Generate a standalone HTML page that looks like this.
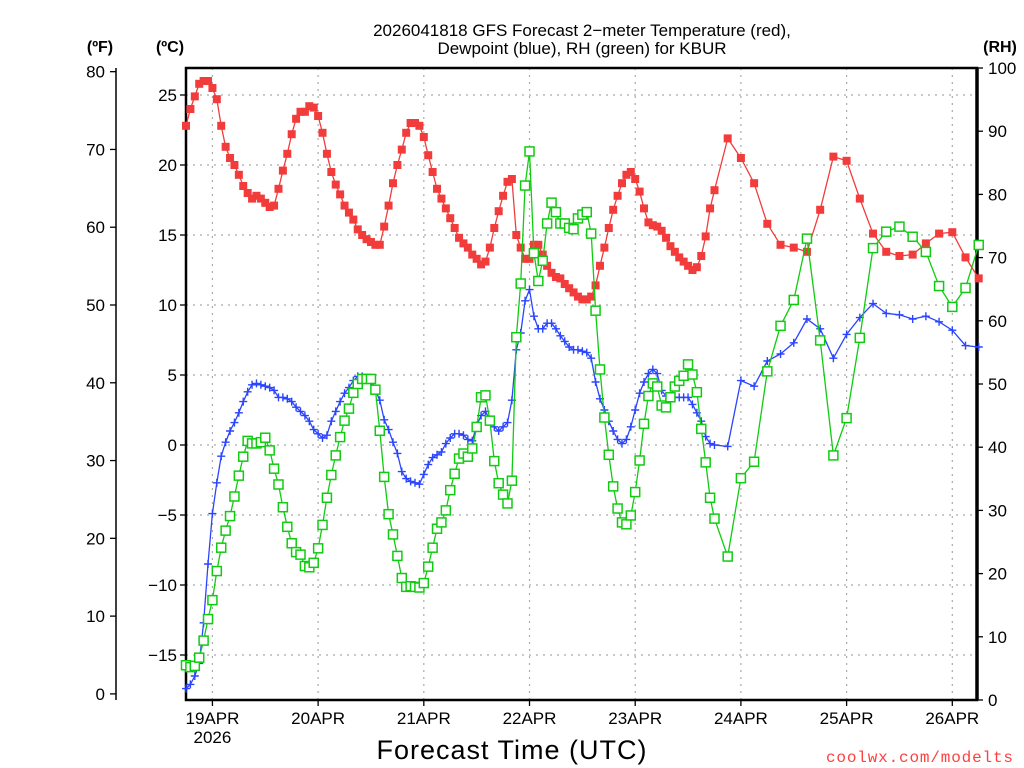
<!DOCTYPE html>
<html><head><meta charset="utf-8"><style>
html,body{margin:0;padding:0;background:#fff;}
svg{display:block;font-family:"Liberation Sans",sans-serif;}
</style></head><body>
<svg id="chart" width="1024" height="768" viewBox="0 0 1024 768" xmlns="http://www.w3.org/2000/svg">
<g id="grid"></g>
<g id="axes"></g>
<g id="series"></g>
<text x="582" y="36" font-size="17" text-anchor="middle" fill="#000">2026041818 GFS Forecast 2−meter Temperature (red),</text>
<text x="582" y="54" font-size="17" text-anchor="middle" fill="#000">Dewpoint (blue), RH (green) for KBUR</text>
<text x="100" y="52" font-size="16" font-weight="bold" text-anchor="middle">(ºF)</text>
<text x="170" y="52" font-size="16" font-weight="bold" text-anchor="middle">(ºC)</text>
<text x="1000" y="52" font-size="16" font-weight="bold" text-anchor="middle">(RH)</text>
<text x="512" y="759" font-size="27" text-anchor="middle" letter-spacing="1">Forecast Time (UTC)</text>
<text x="826" y="762" font-size="16" textLength="187" lengthAdjust="spacing" fill="#ff4040" font-family="Liberation Mono, monospace">coolwx.com/modelts</text>
</svg>
<script>
const tempC = [22.8,24.0,24.9,25.8,26.0,26.0,25.5,24.7,22.8,21.3,20.5,20.0,19.3,18.5,18.0,17.6,17.8,17.6,17.3,17.0,17.1,18.3,19.6,20.8,22.2,23.3,23.8,23.8,24.2,24.1,23.5,22.3,20.8,19.5,18.6,17.9,17.1,16.6,16.1,15.4,
15.0,14.7,14.5,14.3,14.3,15.6,17.1,18.7,20.0,21.1,22.3,23.0,23.0,22.8,22.0,20.7,19.5,18.3,17.6,16.9,16.2,15.5,14.8,14.4,14.1,13.6,13.3,12.9,13.1,14.1,15.5,16.7,17.8,18.8,19.0,15.0,14.1,13.3,13.3,
14.3,14.3,13.6,12.8,12.3,12.0,11.9,11.5,11.2,10.9,10.6,10.4,10.4,10.6,11.4,12.8,14.1,15.5,16.8,17.8,18.7,19.3,19.5,19.0,18.1,16.9,15.9,15.7,15.6,15.3,14.8,14.2,13.8,13.4,13.1,12.8,12.5,12.7,13.5,
14.9,16.9,18.2,
21.9,20.5,18.7,15.8,14.3,14.1,13.8,16.8,20.6,20.3,17.6,15.1,13.8,13.5,13.6,14.4,15.1,15.2,13.4,11.9];
const dewC = [-17.4,-17.1,-16.5,-15.6,-12.7,-8.5,-4.9,-2.7,-0.8,0.2,1.0,1.6,2.3,3.1,3.8,4.3,4.4,4.3,4.2,4.1,3.9,3.4,3.4,3.3,3.1,2.7,2.4,2.1,1.7,1.1,0.8,0.5,0.7,1.7,2.4,3.1,3.7,4.1,4.6,4.9,
4.9,4.8,4.5,3.9,3.2,1.8,1.1,0.2,-0.6,-1.9,-2.4,-2.6,-2.7,-2.8,-2.1,-1.4,-0.9,-0.7,-0.5,0.1,0.5,0.8,0.8,0.7,0.4,0.3,1.4,2.1,2.4,1.8,1.3,1.0,1.3,1.6,3.2,6.8,8.0,10.3,11.1,
9.2,8.3,8.3,8.7,8.7,8.3,7.8,7.4,7.0,6.8,6.8,6.7,6.6,6.2,4.5,3.3,2.5,1.7,1.0,0.4,0.1,0.4,1.3,2.5,3.7,4.5,5.1,5.4,5.1,3.9,3.5,3.4,3.4,3.4,3.4,3.4,2.9,2.3,1.7,
0.6,0.1,0.0,
-0.1,4.6,4.2,6.0,6.5,7.3,9.0,8.3,6.2,7.9,9.1,10.1,9.4,9.3,9.0,9.2,8.8,8.2,7.1,7.0];
const rhPct = [5.5,5.2,5.4,6.7,9.4,12.8,15.8,20.4,24.1,26.8,29.1,32.2,35.5,38.5,41.0,40.6,40.6,40.8,41.5,39.5,36.6,34.1,30.5,27.4,24.8,23.4,23.0,21.2,21.0,21.7,24.0,27.7,32.0,35.6,38.7,41.6,44.2,46.1,48.6,50.0,
50.8,50.8,50.8,49.1,42.6,35.3,29.4,26.2,22.8,19.3,17.9,18.0,17.9,17.8,18.5,21.1,24.1,27.1,28.1,30.0,33.2,35.8,38.2,39.0,38.5,39.8,43.2,47.9,48.2,44.2,37.8,34.3,32.5,31.1,34.7,57.4,65.9,81.4,86.8,
70.7,66.3,69.5,75.4,78.7,77.2,75.4,75.4,74.7,74.5,76.2,76.8,77.2,73.8,61.6,52.3,44.7,38.8,33.8,30.3,28.1,27.8,29.2,32.9,37.9,43.7,48.1,50.1,49.6,46.6,46.3,47.9,49.6,50.5,51.3,53.1,51.5,48.7,42.9,
37.6,32.0,28.7,
22.7,35.1,37.7,52.0,59.2,63.3,73.0,56.9,38.7,44.6,57.3,71.5,74.1,74.9,73.3,70.9,65.5,62.2,65.2,72.0];
const dayLabels = ["19APR","20APR","21APR","22APR","23APR","24APR","25APR","26APR"];
const cTicks = [25,20,15,10,5,0,-5,-10,-15];
const fTicks = [80,70,60,50,40,30,20,10,0];
const rhTicks = [100,90,80,70,60,50,40,30,20,10,0];
// forecast hours: hourly to 120, then 3-hourly to 180
const hours = [];
for (let h = 0; h <= 120; h++) hours.push(h);
for (let h = 123; h <= 180; h += 3) hours.push(h);

const NS = "http://www.w3.org/2000/svg";
const L = 186, R = 977, T = 68, B = 700;
const xH = h => L + h * 4.404;
const yC = c => 445 - c * 14;
const yF = f => yC((f - 32) * 5 / 9);
const yRH = r => B - r * 6.32;
function mk(tag, attrs, parent){const e=document.createElementNS(NS,tag);for(const k in attrs)e.setAttribute(k,attrs[k]);parent.appendChild(e);return e;}
const grid = document.getElementById('grid'), axes = document.getElementById('axes'), ser = document.getElementById('series');

cTicks.forEach(c => {
  const y = yC(c);
  const g = mk('line',{x1:L,x2:R,y1:y,y2:y,stroke:'#aaa','stroke-width':1.2,'stroke-dasharray':'2,5'},grid);
  
  
  const t = mk('line',{x1:L-6,x2:L,y1:y,y2:y,stroke:'#000','stroke-width':1.3},axes);
  
  
  const lb = mk('text',{x:L-9,y:y+6,'font-size':17,'text-anchor':'end'},axes);
  lb.textContent = c < 0 ? '\u2212' + Math.abs(c) : String(c);
  
  
});
dayLabels.forEach((d,i) => {
  const x = xH(6 + 24*i);
  const g = mk('line',{x1:x,x2:x,y1:T,y2:B,stroke:'#aaa','stroke-width':1.2,'stroke-dasharray':'2,5'},grid);
  
  
  const t = mk('line',{x1:x,x2:x,y1:B,y2:B+6,stroke:'#000','stroke-width':1.3},axes);
  
  
  const lb = mk('text',{x:x,y:B+24,'font-size':17,'text-anchor':'middle'},axes);
  lb.textContent = d;
  
  
});
const yr = mk('text',{x:xH(6),y:B+43,'font-size':17,'text-anchor':'middle'},axes);
yr.textContent = '2026';



const fAx = mk('line',{x1:116,x2:116,y1:T,y2:B,stroke:'#000','stroke-width':1.5},axes);


fTicks.forEach(f => {
  const y = yF(f);
  const t = mk('line',{x1:110,x2:116,y1:y,y2:y,stroke:'#000','stroke-width':1.3},axes);
  
  
  const lb = mk('text',{x:105,y:y+6,'font-size':17,'text-anchor':'end'},axes);
  lb.textContent = String(f);
  
  
});
rhTicks.forEach(r => {
  const y = yRH(r);
  const t = mk('line',{x1:R,x2:R+6,y1:y,y2:y,stroke:'#000','stroke-width':1.3},axes);
  
  
  const lb = mk('text',{x:R+11,y:y+6,'font-size':17,'text-anchor':'start'},axes);
  lb.textContent = String(r);
  
  
});
const box = mk('rect',{x:L,y:T,width:R-L,height:B-T,fill:'none',stroke:'#000','stroke-width':2.5},axes);


const rb = mk('line',{x1:R,x2:R,y1:T,y2:B,stroke:'#000','stroke-width':3.5},axes);



function drawSeries(vals, yf, color, kind, name){
  const g = mk('g',{},ser);
  
  
  const pts = vals.map((v,i)=>xH(hours[i]).toFixed(1)+','+yf(v).toFixed(1)).join(' ');
  const pl = mk('polyline',{points:pts,fill:'none',stroke:color,'stroke-width':1.3},g);
  
  
  vals.forEach((v,i)=>{
    const x = xH(hours[i]), y = yf(v);
    let m;
    if (kind==='fill') m = mk('rect',{x:x-4,y:y-4,width:8,height:8,fill:color},g);
    else if (kind==='hollow') m = mk('rect',{x:x-4.5,y:y-4.5,width:9,height:9,fill:'#fff',stroke:color,'stroke-width':1.5},g);
    else m = mk('path',{d:`M${x-4},${y}H${x+4}M${x},${y-4}V${y+4}`,stroke:color,'stroke-width':1.4,fill:'none'},g);
    
    
  });
}
drawSeries(tempC, yC, '#f23c3c', 'fill', 'temperature');
drawSeries(dewC, yC, '#2a44ff', 'plus', 'dewpoint');
drawSeries(rhPct, yRH, '#10cc10', 'hollow', 'relative-humidity');
</script>
</body></html>
